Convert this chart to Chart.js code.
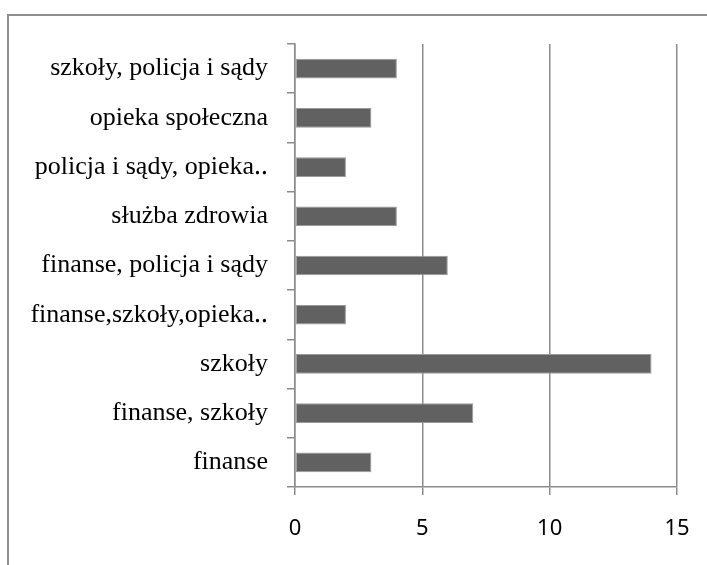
<!DOCTYPE html>
<html>
<head>
<meta charset="utf-8">
<script src="https://cdn.jsdelivr.net/npm/chart.js@4/dist/chart.umd.min.js"></script>
<style>
    html, body { margin: 0; padding: 0; background: #fff; overflow: hidden; }
    .frame {
        position: absolute; left: 7px; top: 14px;
        width: 800px; height: 700px;
        border: 2px solid #8e8e8e;
        pointer-events: none;
    }
    .chart-container { position: absolute; left: 0; top: 0; width: 707px; height: 565px; }
</style>
</head>
<body>
<div class="frame"></div>
<div class="chart-container"><canvas id="chart" width="707" height="565"></canvas></div>
<script>
// categories, top to bottom as shown
const categories = [
    'szkoły, policja i sądy',
    'opieka społeczna',
    'policja i sądy, opieka‥',
    'służba zdrowia',
    'finanse, policja i sądy',
    'finanse,szkoły,opieka‥',
    'szkoły',
    'finanse, szkoły',
    'finanse'
];
const counts = [4, 3, 2, 4, 6, 2, 14, 7, 3];
const xTicks = [0, 5, 10, 15];

const gridColor = '#8c8c8c';

const ctx = document.getElementById('chart').getContext('2d');
new Chart(ctx, {
    type: 'bar',
    data: {
        labels: categories,
        datasets: [{
            data: counts,
            backgroundColor: '#616161',
            borderColor: '#9a9a9a',
            borderWidth: 1,
            borderSkipped: false,
            barPercentage: 0.4,
            categoryPercentage: 1
        }]
    },
    options: {
        indexAxis: 'y',
        responsive: false,
        animation: false,
        layout: { padding: { top: 44, right: 30, left: 0, bottom: 0 } },
        plugins: {
            legend: { display: false },
            tooltip: { enabled: false }
        },
        scales: {
            x: {
                min: 0,
                max: 15,
                afterBuildTicks: axis => { axis.ticks = xTicks.map(v => ({ value: v })); },
                afterFit: axis => {
                    axis.height = 78;
                    axis.paddingLeft = 0;
                    axis.paddingRight = 0;
                },
                grid: {
                    color: gridColor,
                    lineWidth: 1.5,
                    drawTicks: true,
                    tickLength: 8
                },
                border: { color: gridColor, width: 1.5 },
                ticks: {
                    color: '#000',
                    padding: 21,
                    font: { family: '"Noto Sans", "Open Sans", sans-serif', size: 22 }
                }
            },
            y: {
                afterFit: axis => { axis.width = 295; },
                grid: {
                    drawOnChartArea: false,
                    color: gridColor,
                    lineWidth: 1.5,
                    tickLength: 8,
                    offset: true
                },
                border: { color: gridColor, width: 1.5 },
                ticks: {
                    color: '#000',
                    padding: 19,
                    autoSkip: false,
                    font: { family: '"Liberation Serif", "Times New Roman", serif', size: 26 }
                }
            }
        }
    }
});
</script>
</body>
</html>
